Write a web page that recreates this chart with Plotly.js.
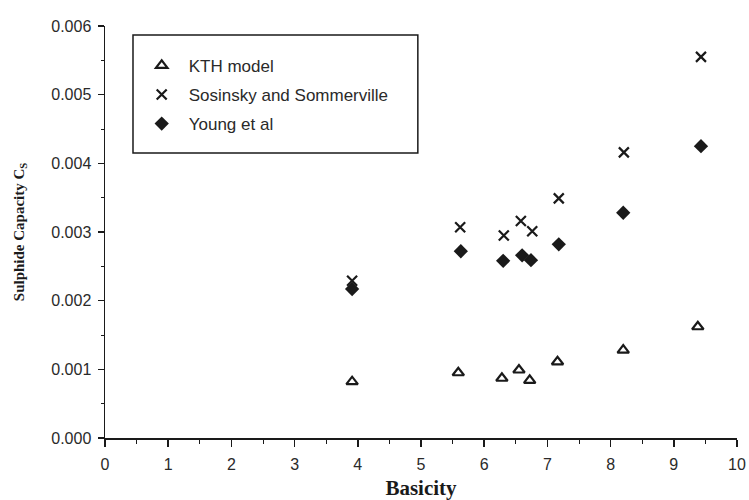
<!DOCTYPE html>
<html>
<head>
<meta charset="utf-8">
<script src="https://cdn.plot.ly/plotly-3.0.1.min.js"></script>
<style>
  html, body { margin: 0; padding: 0; background: #fff; }
  #chart { width: 749px; height: 500px; }
</style>
</head>
<body>
<div id="chart"></div>
<script>
// Basicity of each slag
const basicityKTH = [3.91, 5.59, 6.28, 6.55, 6.72, 7.16, 8.20, 9.38];
const basicitySos = [3.91, 5.62, 6.31, 6.58, 6.76, 7.18, 8.21, 9.43];
const basicityYoung = [3.91, 5.63, 6.30, 6.60, 6.74, 7.18, 8.20, 9.43];

// Sulphide capacity values for each model
const csKTH = [0.00082, 0.00095, 0.00087, 0.00099, 0.00084, 0.00111, 0.00128, 0.00162];
const csSos = [0.00229, 0.00307, 0.00295, 0.00316, 0.00301, 0.00349, 0.00416, 0.00555];
const csYoung = [0.00217, 0.00272, 0.00258, 0.00266, 0.00259, 0.00282, 0.00328, 0.00425];

const seriesNames = ['KTH model', 'Sosinsky and Sommerville', 'Young et al'];

const ink = '#1a1a1a';

const traces = [
  {
    x: basicityKTH, y: csKTH, name: seriesNames[0], legendgroup: 'a', type: 'scatter', mode: 'markers',
    marker: { symbol: 'triangle-up-open', size: 10, color: ink, line: { width: 2.2, color: ink } }
  },
  {
    x: basicitySos, y: csSos, name: seriesNames[1], legendgroup: 'b', type: 'scatter', mode: 'markers',
    marker: { symbol: 'x-thin-open', size: 10, color: ink, line: { width: 2.2, color: ink } }
  },
  {
    x: basicityYoung, y: csYoung, name: seriesNames[2], legendgroup: 'c', type: 'scatter', mode: 'markers',
    marker: { symbol: 'diamond', size: 11, color: ink, line: { width: 0 } }
  }
];

const tickFont = { family: 'Liberation Sans, Arial, sans-serif', size: 16, color: '#2a2a2a' };

const layout = {
  width: 749, height: 500,
  margin: { l: 105, r: 12, t: 26, b: 62 },
  paper_bgcolor: '#fff', plot_bgcolor: '#fff',
  showlegend: true,
  legend: {
    x: 0.047, y: 0.947, xanchor: 'left', yanchor: 'top',
    bgcolor: 'rgba(0,0,0,0)', borderwidth: 0,
    itemwidth: 44,
    font: { family: 'Liberation Sans, Arial, sans-serif', size: 17, color: '#2a2a2a' },
    tracegroupgap: 4
  },
  // frame around the legend entries
  shapes: [{
    type: 'rect', xref: 'paper', yref: 'paper',
    x0: 0.0443, x1: 0.495, y0: 0.692, y1: 0.978,
    line: { color: ink, width: 1.5 }, fillcolor: 'rgba(0,0,0,0)', layer: 'below'
  }],
  xaxis: {
    range: [0, 10], dtick: 1, tick0: 0,
    showgrid: false, zeroline: false,
    showline: true, linecolor: ink, linewidth: 1.5,
    ticks: 'outside', ticklen: 7, tickwidth: 1.5, tickcolor: ink,
    ticklabelstandoff: 4,
    minor: { dtick: 0.5, ticks: 'outside', ticklen: 4, tickwidth: 1, tickcolor: ink },
    tickfont: tickFont,
    title: { text: 'Basicity', font: { family: 'Liberation Serif, Times New Roman, serif', size: 21, color: ink, weight: 'bold' }, standoff: 8 }
  },
  yaxis: {
    range: [0, 0.006], dtick: 0.001, tick0: 0, tickformat: '.3f',
    showgrid: false, zeroline: false,
    showline: true, linecolor: ink, linewidth: 1.5,
    ticks: 'outside', ticklen: 6, tickwidth: 1.5, tickcolor: ink,
    ticklabelstandoff: 3,
    minor: { dtick: 0.0005, ticks: 'outside', ticklen: 3, tickwidth: 1, tickcolor: ink },
    tickfont: tickFont,
    title: { text: 'Sulphide Capacity C<sub>S</sub>', font: { family: 'Liberation Serif, Times New Roman, serif', size: 15, color: ink, weight: 'bold' }, standoff: 23 }
  }
};

Plotly.newPlot('chart', traces, layout, { displayModeBar: false, staticPlot: true });
</script>
</body>
</html>
